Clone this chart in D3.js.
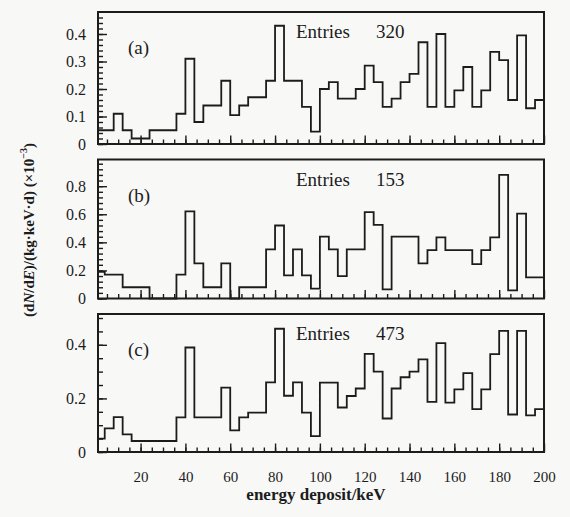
<!DOCTYPE html>
<html>
<head>
<meta charset="utf-8">
<script src="https://cdn.jsdelivr.net/npm/d3@7/dist/d3.min.js"></script>
<style>
  body { margin: 0; background: #f8f8f7; }
  svg { display: block; }
  text { font-family: "Liberation Serif", "DejaVu Serif", serif; fill: #1c1c1c; }
</style>
</head>
<body>
<svg id="viz" width="570" height="517"></svg>
<script>
// bins are 4 keV wide, lower edges 0..196
const binWidth = 4;
const binStarts = d3.range(0, 200, binWidth);

// (a) Entries 320
const valuesA = [0.05, 0.05, 0.11, 0.05, 0.02, 0.02, 0.05, 0.05, 0.05, 0.11,
  0.31, 0.08, 0.14, 0.14, 0.23, 0.105, 0.14, 0.17, 0.17, 0.23,
  0.43, 0.23, 0.23, 0.135, 0.045, 0.2, 0.225, 0.165, 0.165, 0.2,
  0.285, 0.225, 0.135, 0.165, 0.225, 0.255, 0.37, 0.135, 0.4, 0.135,
  0.195, 0.28, 0.135, 0.195, 0.335, 0.305, 0.16, 0.395, 0.13, 0.16];
// (b) Entries 153
const valuesB = [0.19, 0.17, 0.17, 0.08, 0.08, 0.08, 0, 0, 0, 0.17,
  0.62, 0.25, 0.08, 0.08, 0.25, 0, 0.08, 0.08, 0.08, 0.35,
  0.52, 0.165, 0.35, 0.165, 0.07, 0.44, 0.35, 0.16, 0.35, 0.35,
  0.615, 0.525, 0.065, 0.44, 0.44, 0.44, 0.25, 0.345, 0.435, 0.345,
  0.345, 0.345, 0.245, 0.345, 0.435, 0.88, 0.058, 0.605, 0.15, 0.15];
// (c) Entries 473
const valuesC = [0.05, 0.088, 0.13, 0.066, 0.041, 0.041, 0.041, 0.041, 0.041, 0.129,
  0.39, 0.129, 0.129, 0.129, 0.24, 0.081, 0.129, 0.147, 0.147, 0.26,
  0.46, 0.21, 0.26, 0.147, 0.059, 0.259, 0.259, 0.166, 0.209, 0.237,
  0.366, 0.3, 0.125, 0.237, 0.279, 0.3, 0.346, 0.187, 0.406, 0.184,
  0.234, 0.294, 0.16, 0.234, 0.365, 0.452, 0.14, 0.452, 0.137, 0.16];

const panelNames = ["(a)", "(b)", "(c)"];
const entries = [320, 153, 473];
const yMax = [0.48, 0.99, 0.515];
const yMajor = [[0, 0.1, 0.2, 0.3, 0.4], [0, 0.2, 0.4, 0.6, 0.8], [0, 0.2, 0.4]];
const yMinorStep = [0.02, 0.04, 0.05];
const xLabels = [20, 40, 60, 80, 100, 120, 140, 160, 180, 200];

const svg = d3.select("#viz");
const ink = "#1c1c1c";

const x = d3.scaleLinear().domain([1, 200]).range([98, 544]).clamp(true);

const panels = [
  {vals: valuesA, top: 12, bottom: 144},
  {vals: valuesB, top: 159.5, bottom: 298.5},
  {vals: valuesC, top: 314, bottom: 452}
];

panels.forEach((p, i) => {
  const y = d3.scaleLinear().domain([0, yMax[i]]).range([p.bottom, p.top]);
  const g = svg.append("g");

  // histogram outline
  const pts = [[0, 0]];
  binStarts.forEach((b, j) => {
    pts.push([b, p.vals[j]]);
    pts.push([b + binWidth, p.vals[j]]);
  });
  pts.push([200, 0]);
  const line = d3.line().x(d => x(d[0])).y(d => y(d[1]));
  g.append("path")
    .attr("d", line(pts))
    .attr("fill", "none")
    .attr("stroke", ink)
    .attr("stroke-width", 1.8);

  // y ticks point inward
  const minor = d3.range(0, yMax[i] - 1e-9, yMinorStep[i]);
  g.append("g")
    .attr("transform", `translate(${x.range()[0]},0)`)
    .call(d3.axisLeft(y).tickValues(minor).tickSize(-5).tickFormat(""))
    .call(a => a.select(".domain").remove());
  g.append("g")
    .attr("transform", `translate(${x.range()[0]},0)`)
    .attr("font-family", null)
    .call(d3.axisLeft(y).tickValues(yMajor[i]).tickSize(-9).tickPadding(12)
      .tickFormat(d => d === 0 ? "0" : d3.format(".1f")(d)))
    .attr("font-family", null)
    .attr("font-size", 16)
    .call(a => a.select(".domain").remove());

  // x ticks point inward
  g.append("g")
    .attr("transform", `translate(0,${p.bottom})`)
    .call(d3.axisBottom(x).tickValues(d3.range(5, 200, 5)).tickSize(-4.5).tickFormat(""))
    .call(a => a.select(".domain").remove());
  g.append("g")
    .attr("transform", `translate(0,${p.bottom})`)
    .call(d3.axisBottom(x).tickValues(xLabels).tickSize(-8.5).tickPadding(19)
      .tickFormat(i === 2 ? d3.format("d") : ""))
    .attr("font-family", null)
    .attr("font-size", 15)
    .call(a => a.select(".domain").remove());

  g.selectAll(".tick line").attr("stroke", ink).attr("stroke-width", 1.4);
  g.selectAll(".tick text").attr("fill", ink);

  // frame
  g.append("rect")
    .attr("x", x.range()[0])
    .attr("y", p.top)
    .attr("width", x.range()[1] - x.range()[0])
    .attr("height", p.bottom - p.top)
    .attr("fill", "none")
    .attr("stroke", ink)
    .attr("stroke-width", 2);

  g.append("text")
    .attr("x", 128)
    .attr("y", p.top + 42)
    .attr("font-size", 19)
    .text(panelNames[i]);
  g.append("text")
    .attr("x", 296)
    .attr("y", p.top + 26)
    .attr("font-size", 19)
    .text("Entries");
  g.append("text")
    .attr("x", 376)
    .attr("y", p.top + 26)
    .attr("font-size", 19)
    .text(entries[i]);
});

// axis titles
svg.append("text")
  .attr("x", 316)
  .attr("y", 500)
  .attr("text-anchor", "middle")
  .attr("font-size", 17)
  .attr("font-weight", "bold")
  .text("energy deposit/keV");

const yt = svg.append("text")
  .attr("transform", "translate(34,230) rotate(-90)")
  .attr("text-anchor", "middle")
  .attr("font-size", 15)
  .attr("font-weight", "bold");
yt.append("tspan").text("(d");
yt.append("tspan").attr("font-style", "italic").text("N");
yt.append("tspan").text("/d");
yt.append("tspan").attr("font-style", "italic").text("E");
yt.append("tspan").text(")/(kg·keV·d) (×10");
yt.append("tspan").attr("dy", -7).attr("font-size", 10).text("−3");
yt.append("tspan").attr("dy", 7).text(")");
</script>
</body>
</html>
